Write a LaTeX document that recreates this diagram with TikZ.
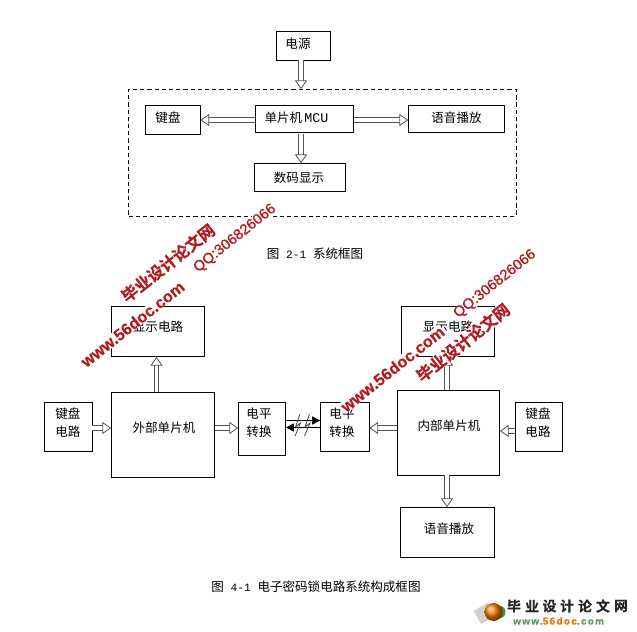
\documentclass[tikz,border=0pt]{standalone}
\usepackage{fontspec}
\usetikzlibrary{arrows.meta}
\setmainfont{Noto Sans CJK SC}
\newfontfamily\latfont{Liberation Mono}
\newfontfamily\wmbold[FakeBold=0.5]{Liberation Sans Bold}
\newfontfamily\wmreg[FakeBold=1]{Liberation Sans}
\newfontfamily\cjkbold[FakeBold=0.5]{Noto Sans CJK SC Bold}
\def\pxu{0.75pt}
\newcommand{\lat}[1]{{\latfont\fontsize{8.4}{9}\selectfont #1}}
\definecolor{wmred}{RGB}{176,28,32}
\tikzset{
  x=0.75pt,y=-0.75pt,
  every node/.style={font=\fontsize{9.4}{13.5}\selectfont},
  boxnode/.style={draw=black,line width=0.6pt,inner sep=0pt},
  txt/.style={inner sep=0pt,align=center},
  hollow/.style={draw=black!68,line width=0.8pt,double=white,double distance=2.5pt,
    -{Triangle[open,fill=white,length=6.5pt,width=9pt,line width=0.6pt]}},
  solidarrow/.style={draw=black,line width=0.7pt,-{Triangle[length=6pt,width=6pt]}},
  wm/.style={inner sep=0pt,text=wmred,rotate=38.5},
  halo/.style={fill=white,inner xsep=0.5pt,inner ysep=0pt},
  bolt/.style={draw=black!75,line width=0.55pt},
}
\newcommand{\bx}[6][]{% style name x1 y1 x2 y2
  \pgfmathsetmacro{\bw}{#5-#3}\pgfmathsetmacro{\bh}{#6-#4}
  \pgfmathsetmacro{\cx}{(#3+#5)/2}\pgfmathsetmacro{\cy}{(#4+#6)/2}
  \node[boxnode,#1,minimum width=\bw*\pxu,minimum height=\bh*\pxu] (#2) at (\cx,\cy) {};
}
\begin{document}
\begin{tikzpicture}
\useasboundingbox (0,0) rectangle (637,632);
\fill[white] (0,0) rectangle (637,632);

% upper diagram
\bx{pwr}{276}{31}{330.5}{60}
\bx[dashed,dash pattern=on 3.2pt off 2.2pt]{sys}{128.5}{89.5}{516}{216}
\bx{kb}{145.5}{105}{200}{134}
\bx{mcu}{255}{105}{353.5}{132}
\bx{voice}{408.5}{105}{504}{132}
\bx{disp}{254.5}{163.5}{345.5}{191}
\node[txt] (tpwr) at (298,44) {电源};
\node[txt] (tkb) at (168,118) {键盘};
\node[txt] (tmcu) at (296.5,118) {单片机\,{\latfont\fontsize{10}{10}\selectfont MCU}};
\node[txt] (tvoice) at (456.5,118) {语音播放};
\node[txt] (tdisp) at (299,178) {数码显示};
\node[txt] (cap1) at (315,254) {图\lat{ 2-1 }系统框图};

% lower diagram
\bx{dl}{111.5}{306.5}{204.5}{356.5}
\bx{ml}{111.5}{392.5}{214.5}{477}
\bx{kl}{44.5}{402.5}{92}{451}
\bx{el}{238.5}{402.5}{285.5}{455}
\bx{er}{320.5}{402.5}{369}{451}
\bx{mr}{397.5}{390.5}{499.5}{475}
\bx{kr}{515.5}{402.5}{562}{451}
\bx{dr}{401.5}{306.5}{494}{356.5}
\bx{vr}{400.5}{507.5}{494.5}{557.5}
\node[txt] (tdl) at (158,326.5) {显示电路};
\node[txt] (tml) at (164,428) {外部单片机};
\node[txt] (tkl) at (68,422.5) {键盘\\电路};
\node[txt] (tel) at (259,423) {电平\\转换};
\node[txt] (ter) at (342,422.5) {电平\\转换};
\node[txt] (tmr) at (449,425.5) {内部单片机};
\node[txt] (tkr) at (538,422.5) {键盘\\电路};
\node[txt] (tdr) at (448,327) {显示电路};
\node[txt] (tvr) at (449,529) {语音播放};
\node[txt] (cap2) at (316,587) {图\lat{ 4-1 }电子密码锁电路系统构成框图};

% guides for connector lines
\coordinate (vA) at (301,0);
\coordinate (vB) at (156.5,0);
\coordinate (vC) at (447,0);
\coordinate (hA) at (0,120);
\coordinate (hB) at (0,428);
\coordinate (hC) at (0,431);
\coordinate (hU) at (0,420.5);
\coordinate (hD) at (0,427.5);

\draw[hollow] (pwr.south -| vA) -- (sys.north -| vA);
\draw[hollow] (mcu.west |- hA) -- (kb.east |- hA);
\draw[hollow] (mcu.east |- hA) -- (voice.west |- hA);
\draw[hollow] ([yshift=-1.5pt]mcu.south -| vA) -- (disp.north -| vA);
\draw[hollow] (ml.north -| vB) -- (dl.south -| vB);
\draw[hollow] (kl.east |- hB) -- (ml.west |- hB);
\draw[hollow] (ml.east |- hB) -- (el.west |- hB);
\draw[hollow] (mr.west |- hB) -- (er.east |- hB);
\draw[hollow] (kr.west |- hC) -- (mr.east |- hC);
\draw[hollow] (mr.north -| vC) -- (dr.south -| vC);
\draw[hollow] (mr.south -| vC) -- (vr.north -| vC);
\draw[solidarrow] (el.east |- hU) -- (er.west |- hU);
\draw[solidarrow] (er.west |- hD) -- (el.east |- hD);
\draw[bolt] (300,414)--(295.5,427)--(300.5,423)--(295,436);
\draw[bolt] (309.5,414)--(305,427)--(310,423)--(304.5,436);

% watermarks
\node[wm,halo,font=\wmbold\fontsize{12.2}{13}\selectfont] (w1) at (132.5,324) {www.56doc.com};
\node[wm,halo,font=\cjkbold\fontsize{12.2}{13}\selectfont] (w2) at (168,263) {毕业设计论文网};
\node[wm,halo,font=\wmreg\fontsize{11}{12}\selectfont] (w3) at (235,238.5) {QQ:306826066};
\node[wm,halo,font=\wmbold\fontsize{12.2}{13}\selectfont] (w4) at (392.5,369) {www.56doc.com};
\node[wm,halo,font=\cjkbold\fontsize{12.2}{13}\selectfont] (w5) at (463,342.5) {毕业设计论文网};
\node[wm,halo,font=\wmreg\fontsize{11}{12}\selectfont] (w6) at (495,284) {QQ:306826066};

% logo
\fill[black!18,rotate around={30:(484,613)}] (476,606) rectangle (492,621);
\fill[green!40!black!75] (499,612) circle (6.5);
\shade[ball color=orange] (493.5,612) circle (9);
\foreach \c/\xx in {毕/514,业/532,设/549.5,计/567,论/585,文/603,网/621}
  \node[inner sep=0pt,font=\cjkbold\fontsize{10.4}{11}\selectfont,text=black!85] at (\xx,606) {\c};
\node[inner sep=0pt,font=\wmbold\fontsize{7.4}{9}\selectfont,anchor=west] (lg) at (513,621)
  {\addfontfeature{LetterSpace=14}\textcolor{green!30!black!60}{www.}\textcolor{orange!90!black}{56doc}\textcolor{green!30!black!60}{.com}};
\end{tikzpicture}
\end{document}
